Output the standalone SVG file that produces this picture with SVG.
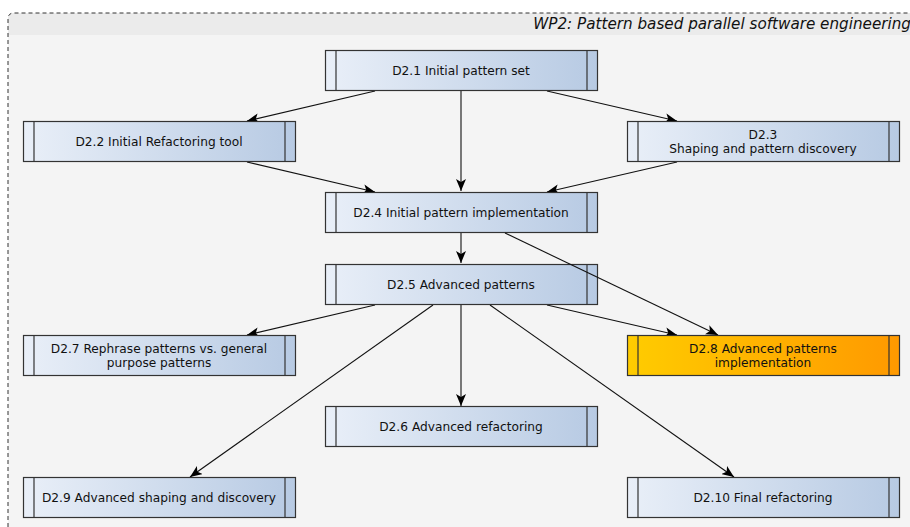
<svg xmlns="http://www.w3.org/2000/svg" width="910" height="527" viewBox="0 0 910 527">
<defs>
<linearGradient id="blue" x1="0" y1="0" x2="1" y2="0"><stop offset="0" stop-color="#e9eff8"/><stop offset="1" stop-color="#b7cae3"/></linearGradient>
<linearGradient id="orange" x1="0" y1="0" x2="1" y2="0"><stop offset="0" stop-color="#ffcc00"/><stop offset="1" stop-color="#ff9900"/></linearGradient>
<marker id="arr" viewBox="0 0 12 10" refX="12" refY="5" markerWidth="12" markerHeight="10" markerUnits="userSpaceOnUse" orient="auto">
<path d="M0,0 L12,5 L0,10 L3,5 Z" fill="#000"/>
</marker>
<style>
.box{stroke:#333;stroke-width:1.2}
.in{stroke:#333;stroke-width:1.2;fill:none}
.lbl{font-family:"DejaVu Sans",sans-serif;font-size:12.2px;fill:#111;text-anchor:middle}
.edge{stroke:#111;stroke-width:1.1;fill:none;marker-end:url(#arr)}
</style>
</defs>
<g id="container">
<path d="M8,527 L8,19 Q8,13 14,13 L912,13 L912,527" fill="#f4f4f4" stroke="none"/>
<path d="M8,35 L8,19 Q8,13 14,13 L912,13 L912,35 Z" fill="#ebebeb"/>
<path d="M8,527 L8,19 Q8,13 14,13 L912,13" fill="none" stroke="#333" stroke-width="1" stroke-dasharray="4,3"/>
<text x="911" y="29" font-family="DejaVu Sans,sans-serif" font-size="15.2" font-style="italic" text-anchor="end" fill="#111">WP2: Pattern based parallel software engineering</text>
</g>
<g id="connectors">
<line class="edge" x1="375" y1="91" x2="247" y2="121"/>
<line class="edge" x1="461" y1="91" x2="461" y2="191"/>
<line class="edge" x1="547" y1="91" x2="677" y2="121"/>
<line class="edge" x1="247" y1="162" x2="375" y2="192"/>
<line class="edge" x1="677" y1="162" x2="547" y2="192"/>
<line class="edge" x1="461" y1="233" x2="461" y2="263"/>
<line class="edge" x1="375" y1="305" x2="247" y2="335"/>
<line class="edge" x1="547" y1="305" x2="677" y2="335"/>
<line class="edge" x1="461" y1="305" x2="461" y2="406"/>
<line class="edge" x1="433" y1="305" x2="190" y2="477"/>
<line class="edge" x1="490" y1="305" x2="734" y2="477"/>
</g>
<g id="D2.1"><rect class="box" x="325.5" y="50.5" width="272" height="40" fill="url(#blue)"/><line class="in" x1="336" y1="50.5" x2="336" y2="90.5"/><line class="in" x1="587" y1="50.5" x2="587" y2="90.5"/><text class="lbl" x="461" y="75">D2.1 Initial pattern set</text></g>
<g id="D2.2"><rect class="box" x="23.5" y="121.5" width="272" height="40" fill="url(#blue)"/><line class="in" x1="34" y1="121.5" x2="34" y2="161.5"/><line class="in" x1="285" y1="121.5" x2="285" y2="161.5"/><text class="lbl" x="159" y="146">D2.2 Initial Refactoring tool</text></g>
<g id="D2.3"><rect class="box" x="627.5" y="121.5" width="272" height="40" fill="url(#blue)"/><line class="in" x1="638" y1="121.5" x2="638" y2="161.5"/><line class="in" x1="889" y1="121.5" x2="889" y2="161.5"/><text class="lbl" x="763" y="139">D2.3</text><text class="lbl" x="763" y="153">Shaping and pattern discovery</text></g>
<g id="D2.4"><rect class="box" x="325.5" y="192.5" width="272" height="40" fill="url(#blue)"/><line class="in" x1="336" y1="192.5" x2="336" y2="232.5"/><line class="in" x1="587" y1="192.5" x2="587" y2="232.5"/><text class="lbl" x="461" y="217">D2.4 Initial pattern implementation</text></g>
<g id="D2.5"><rect class="box" x="325.5" y="264.5" width="272" height="40" fill="url(#blue)"/><line class="in" x1="336" y1="264.5" x2="336" y2="304.5"/><line class="in" x1="587" y1="264.5" x2="587" y2="304.5"/><text class="lbl" x="461" y="289">D2.5 Advanced patterns</text></g>
<g id="connector-over"><line class="edge" x1="505" y1="233" x2="718" y2="335"/></g>
<g id="D2.7"><rect class="box" x="23.5" y="335.5" width="272" height="40" fill="url(#blue)"/><line class="in" x1="34" y1="335.5" x2="34" y2="375.5"/><line class="in" x1="285" y1="335.5" x2="285" y2="375.5"/><text class="lbl" x="159" y="353">D2.7 Rephrase patterns vs. general</text><text class="lbl" x="159" y="367">purpose patterns</text></g>
<g id="D2.8"><rect class="box" x="627.5" y="335.5" width="272" height="40" fill="url(#orange)"/><line class="in" x1="638" y1="335.5" x2="638" y2="375.5"/><line class="in" x1="889" y1="335.5" x2="889" y2="375.5"/><text class="lbl" x="763" y="353">D2.8 Advanced patterns</text><text class="lbl" x="763" y="367">implementation</text></g>
<g id="D2.6"><rect class="box" x="325.5" y="406.5" width="272" height="40" fill="url(#blue)"/><line class="in" x1="336" y1="406.5" x2="336" y2="446.5"/><line class="in" x1="587" y1="406.5" x2="587" y2="446.5"/><text class="lbl" x="461" y="431">D2.6 Advanced refactoring</text></g>
<g id="D2.9"><rect class="box" x="23.5" y="477.5" width="272" height="40" fill="url(#blue)"/><line class="in" x1="34" y1="477.5" x2="34" y2="517.5"/><line class="in" x1="285" y1="477.5" x2="285" y2="517.5"/><text class="lbl" x="159" y="502">D2.9 Advanced shaping and discovery</text></g>
<g id="D2.10"><rect class="box" x="627.5" y="477.5" width="272" height="40" fill="url(#blue)"/><line class="in" x1="638" y1="477.5" x2="638" y2="517.5"/><line class="in" x1="889" y1="477.5" x2="889" y2="517.5"/><text class="lbl" x="763" y="502">D2.10 Final refactoring</text></g>
</svg>
